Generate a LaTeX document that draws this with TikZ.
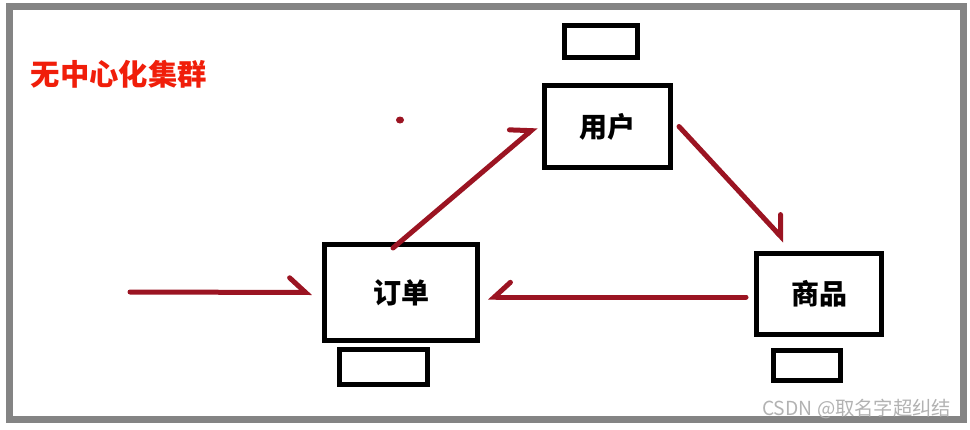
\documentclass[tikz,border=0pt]{standalone}
\usepackage{fontspec}
\usepackage{xcolor}
\usepackage{tikz}
\usetikzlibrary{arrows.meta, calc}

\newfontfamily\cjk{Noto Sans CJK SC}
\definecolor{flowred}{HTML}{9B1422}
\definecolor{titlered}{HTML}{F01E0A}
\definecolor{framegray}{HTML}{848484}

\begin{document}
\begin{tikzpicture}[
    x=0.75pt, y=-0.75pt,
    font=\cjk,
    frame style/.style={draw=framegray, line width=5pt},
    service box/.style={
        draw=black,
        line width=3.75pt,
        fill=white,
        inner sep=0pt,
        font=\cjk\bfseries\fontsize{21}{24}\selectfont
    },
    mini box/.style={draw=black, line width=3.75pt, inner sep=0pt},
    flow/.style={
        draw=flowred,
        line width=3.75pt,
        line cap=round,
        -{Straight Barb[harpoon, length=12pt, width=22pt, line cap=round]}
    },
    flow back/.style={
        flow,
        -{Straight Barb[harpoon, swap, length=12pt, width=22pt, line cap=round]}
    }
]
    \useasboundingbox (0,0) rectangle (970,429);

    % Frame
    \draw[frame style] (9.5,6.5) rectangle (963.5,419.5);

    % Title
    \node[anchor=west, titlered, font=\cjk\bfseries\fontsize{22}{26}\selectfont] (title) at (26,74) {无中心化集群};

    % --- SERVICES ---
    \node[service box, minimum width=94.5pt, minimum height=61.5pt] (user) at (607.5,126.5) {用户};
    \node[service box, minimum width=114.75pt, minimum height=72pt] (order) at (401,292.5) {订单};
    \node[service box, minimum width=93.75pt, minimum height=60.75pt] (goods) at (819,294) {商品};

    % small boxes next to each service
    \node[mini box, minimum width=54.75pt, minimum height=24pt] (user db) at (601,41.5) {};
    \node[mini box, minimum width=66pt, minimum height=26.25pt] (order db) at (383.5,367) {};
    \node[mini box, minimum width=50.25pt, minimum height=22.5pt] (goods db) at (807,365.5) {};

    % stray pen dot
    \fill[flowred] (400,120) ellipse (4 and 3.5);

    % --- CALLS ---
    \coordinate (entry) at (130,292);
    \draw[flow] (entry) -- ($(order.west)+(-10,0)$);
    \draw[flow] ($(order.north)+(-8,6)$) -- ($(user.west)+(-6,0)$);
    \draw[flow] ($(user.east)+(6,0)$) -- ($(goods.north)+(-34,-10)$);
    \draw[flow back] ($(goods.west)+(-8,3)$) -- ($(order.east)+(8,4.5)$);

    % Watermark
    \node[anchor=east, gray!60, font=\cjk\fontsize{14.5}{16}\selectfont] (mark) at (956,409) {CSDN @取名字超纠结};

\end{tikzpicture}
\end{document}
